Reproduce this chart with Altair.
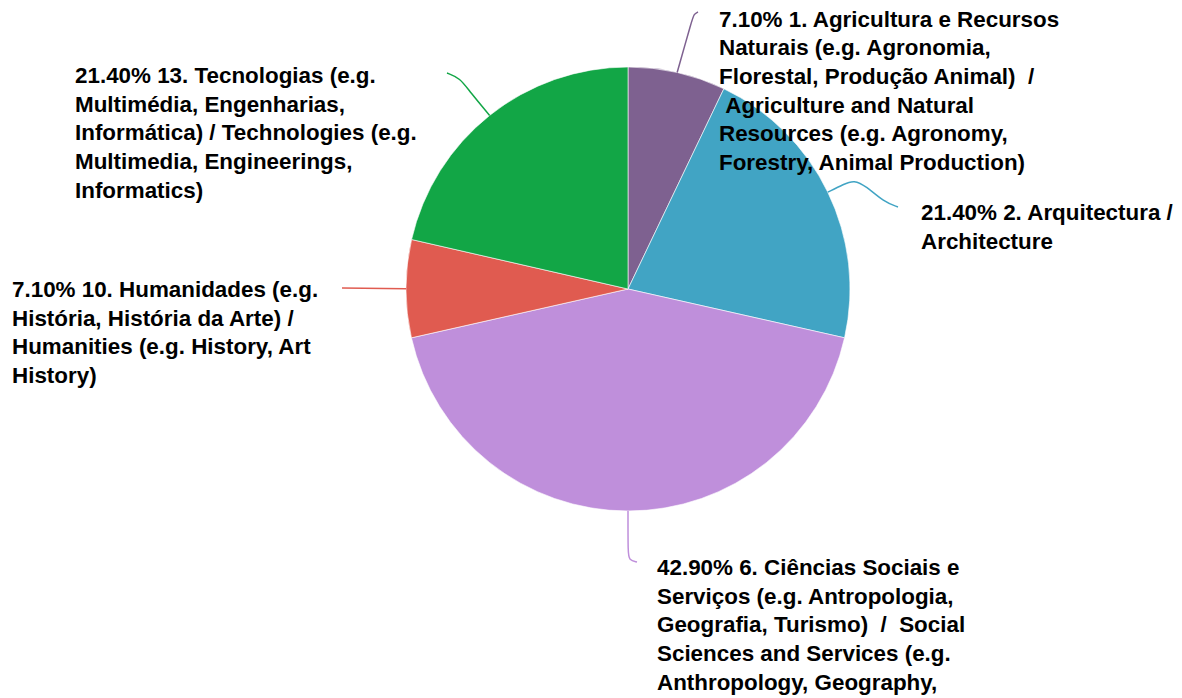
import math
import altair as alt
import pandas as pd

# ---- data ----
categories = ["1. Agricultura", "2. Arquitectura", "6. Ciências Sociais", "10. Humanidades", "13. Tecnologias"]
percents = [7.1, 21.4, 42.9, 7.1, 21.4]
labels = [
    "7.10% 1. Agricultura e Recursos\nNaturais (e.g. Agronomia,\nFlorestal, Produção Animal)\u00a0\u00a0/\n\u200b\u00a0Agriculture and Natural\nResources (e.g. Agronomy,\nForestry, Animal Production)",
    "21.40% 2. Arquitectura /\nArchitecture",
    "42.90% 6. Ciências Sociais e\nServiços (e.g. Antropologia,\nGeografia, Turismo)\u00a0\u00a0/\u00a0\u00a0Social\nSciences and Services (e.g.\nAnthropology, Geography,\nTourism)",
    "7.10% 10. Humanidades (e.g.\nHistória, História da Arte) /\nHumanities (e.g. History, Art\nHistory)",
    "21.40% 13. Tecnologias (e.g.\nMultimédia, Engenharias,\nInformática) / Technologies (e.g.\nMultimedia, Engineerings,\nInformatics)",
]
colors = ["#7e6190", "#41a4c4", "#bf8fdb", "#e05b50", "#12a646"]

# ---- layout (view pixel coordinates) ----
W, H = 1166, 690
CX, CY, R = 620, 281, 222
label_x = [711, 913, 649, 4, 67]
label_y = [18.5, 212, 567, 289, 75]
# leader path points after the slice edge point (view pixels)
leader_tail = [
    [(684, 12), (686, 6), (690, 4)],
    [(836, 176), (846, 172), (858, 178), (876, 194), (890, 199)],
    [(620, 545), (621, 552), (629, 554)],
    [(334, 280)],
    [(462, 84), (452, 70), (439, 65)],
]

# ---- tables ----
pie = pd.DataFrame({"category": categories, "value": percents,
                    "color": colors, "idx": list(range(len(categories)))})

total = sum(percents)
cum = 0.0
line_rows = []
for i, (cat, v) in enumerate(zip(categories, percents)):
    mid = (cum + v / 2) / total * 2 * math.pi
    cum += v
    sx = CX + R * math.sin(mid)
    sy = CY - R * math.cos(mid)
    pts = [(sx, sy)] + leader_tail[i]
    for j, (px, py) in enumerate(pts):
        line_rows.append({"category": cat, "px": px, "py": py, "ord": j, "color": colors[i]})
lines = pd.DataFrame(line_rows)

text_df = pd.DataFrame({"category": categories, "label": labels, "lx": label_x, "ly": label_y})

color_scale = alt.Scale(domain=categories, range=colors)

arcs = alt.Chart(pie).mark_arc(radius=R, stroke="#ffffff", strokeWidth=0.6).encode(
    theta=alt.Theta("value:Q", stack=True),
    order=alt.Order("idx:Q"),
    color=alt.Color("category:N", scale=color_scale, legend=None),
    x=alt.value(CX),
    y=alt.value(CY),
)

leaders = alt.Chart(lines).mark_line(strokeWidth=1.5, interpolate="basis").encode(
    x=alt.X("px:Q", scale=None),
    y=alt.Y("py:Q", scale=None),
    detail="category:N",
    order=alt.Order("ord:Q"),
    color=alt.Color("category:N", scale=color_scale, legend=None),
)

texts = alt.Chart(text_df).mark_text(
    align="left", baseline="alphabetic", lineBreak="\n", lineHeight=28.7,
    font="Liberation Sans", fontWeight="bold", fontSize=22.4, color="#000000",
).encode(
    x=alt.X("lx:Q", scale=None),
    y=alt.Y("ly:Q", scale=None),
    text="label:N",
)

chart = alt.layer(arcs, leaders, texts).properties(
    width=W, height=H, autosize="none", padding=0
).configure_view(strokeWidth=0)

chart.save("out.html", embed_options={"renderer": "svg", "actions": False})
